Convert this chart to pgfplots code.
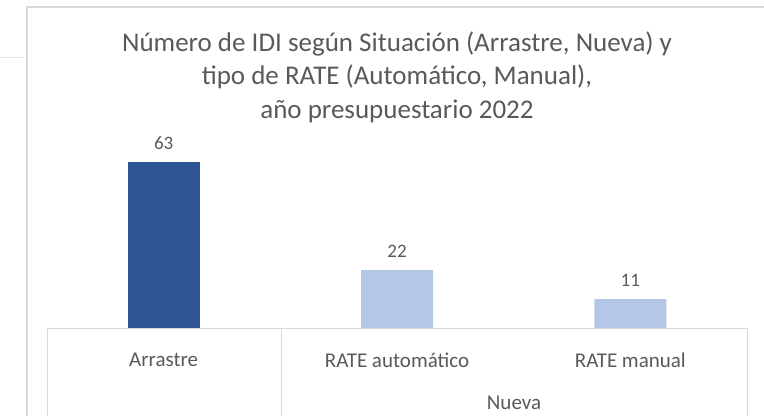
\documentclass[border=0pt]{standalone}
\usepackage{pgfplots}
\pgfplotsset{compat=1.18}
\usepackage{fontspec}
\setmainfont{Carlito}
\definecolor{txt}{HTML}{595959}
\definecolor{darkb}{HTML}{2F5597}
\definecolor{lightb}{HTML}{B4C7E7}
\definecolor{grid}{HTML}{D9D9D9}
\begin{document}
\begin{tikzpicture}[x=1pt,y=1pt]
\path[use as bounding box] (0,0) rectangle (764,416);
% outer frame
\draw[grid, line width=1.2pt] (27,0) -- (27,409) -- (764,409);
\draw[grid!70, line width=1pt] (0,358) -- (24,358);
\begin{axis}[
  at={(47pt,88pt)}, anchor=south west,
  scale only axis, width=700pt, height=184.4pt,
  xmin=-0.5, xmax=2.5, ymin=0, ymax=70,
  hide y axis,
  axis x line*=bottom,
  x axis line style={draw=grid, line width=1pt, -},
  xtick={0,1,2}, xticklabels={Arrastre, RATE automático, RATE manual},
  xtick style={draw=none},
  xticklabel style={font=\fontsize{21}{24}\selectfont, text=txt, yshift=-17pt},
  ybar, bar width=72pt,
  nodes near coords,
  nodes near coords style={font=\fontsize{19}{22}\selectfont, text=txt, yshift=9pt},
  /pgf/number format/assume math mode=true,
  clip=false,
]
\addplot[fill=darkb, draw=none, bar shift=0pt] coordinates {(0,63)};
\addplot[fill=lightb, draw=none, bar shift=0pt] coordinates {(1,22) (2,11)};
\end{axis}
\draw[grid, line width=1pt] (47,88) -- (47,0);
\draw[grid, line width=1pt] (281,88) -- (281,0);
\draw[grid, line width=1pt] (747,88) -- (747,0);
\node[text=txt, font=\fontsize{21}{24}\selectfont] at (514,13) {Nueva};
\node[text=txt, font=\fontsize{27}{32}\selectfont, align=center] at (397,339)
 {Número de IDI según Situación (Arrastre, Nueva) y\\[1.5pt]tipo de RATE (Automático, Manual),\\[1.5pt]año presupuestario 2022};
\end{tikzpicture}
\end{document}
